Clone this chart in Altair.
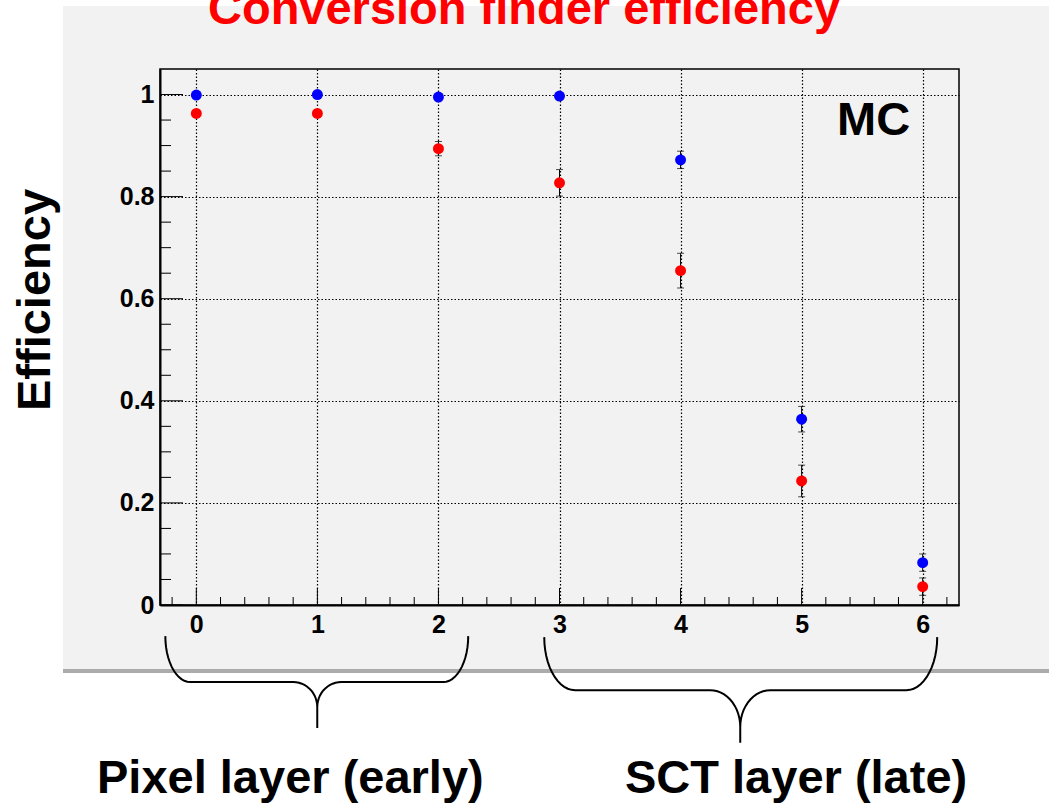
import altair as alt
import pandas as pd
import numpy as np

# ---------------- data ----------------
layers = [0, 1, 2, 3, 4, 5, 6]
blue_eff = [0.999, 1.000, 0.995, 0.997, 0.872, 0.364, 0.083]
blue_err = [0.002, 0.002, 0.003, 0.003, 0.017, 0.025, 0.017]
red_eff = [0.963, 0.963, 0.894, 0.827, 0.655, 0.243, 0.036]
red_err = [0.006, 0.006, 0.014, 0.026, 0.034, 0.031, 0.017]

x_major = [0, 1, 2, 3, 4, 5, 6]
x_minor = [round(-0.2 + 0.2 * k, 1) for k in range(33) if k % 5 != 1]
y_major = [0, 0.2, 0.4, 0.6, 0.8, 1.0]
y_minor = [round(0.05 * k, 2) for k in range(1, 21) if k % 4 != 0]

title_text = "Conversion finder efficiency"
y_title = "Efficiency"
tag_text = "MC"
group_labels = ["Pixel layer (early)", "SCT layer (late)"]

# brace geometry (data units of the two axes)
brace_x0 = [-0.256, 2.874]
brace_x1 = [2.246, 6.120]
brace_xm = [0.999, 4.493]
brace_ytop = [-0.061, -0.063]
brace_ybar = [-0.151, -0.167]
brace_ycurve = [-0.200, -0.239]
brace_yend = [-0.241, -0.270]
brace_rend = [0.206, 0.256]
brace_rtip = [0.198, 0.248]

# ---------------- layout ----------------
W, H = 799, 536
PAD = {"left": 160, "top": 69, "right": 90, "bottom": 205}
FONT = "Liberation Sans"
PANEL = "#f2f2f2"

xs = alt.Scale(domain=[-0.3, 6.3], nice=False, zero=False)
ys = alt.Scale(domain=[0, 1.05], nice=False, zero=False)

axis_common = dict(
    title=None, grid=True, ticks=False, tickSize=0, labelFont=FONT, labelFontSize=25,
    labelFontWeight="bold", labelColor="black", domainColor="black", domainWidth=2,
    gridColor="black", gridDash=[1.5, 2], gridWidth=1.2, labelFlush=False, labelOverlap=False,
)
XAX = alt.Axis(values=x_major, format="d", labelPadding=7, **axis_common)
YAX = alt.Axis(values=y_major, format="~g", labelPadding=6, **axis_common)

df = pd.DataFrame({
    "layer": layers * 2,
    "eff": blue_eff + red_eff,
    "err": blue_err + red_err,
    "sample": ["blue"] * 7 + ["red"] * 7,
})
df["lo"] = df["eff"] - df["err"]
df["hi"] = df["eff"] + df["err"]

one = pd.DataFrame({"a": [0]})


def box(x, x2, y, y2, color):
    return alt.Chart(one).mark_rect(color=color).encode(
        x=alt.value(x), x2=alt.value(x2), y=alt.value(y), y2=alt.value(y2)
    )


bg_left = box(-PAD["left"], -97, -PAD["top"], H + PAD["bottom"], "white")
bg_top = box(-PAD["left"], W + PAD["right"], -PAD["top"], -63, "white")
bg_bottom = box(-PAD["left"], W + PAD["right"], 600, H + PAD["bottom"], "white")
shadow = box(-97, W + PAD["right"], 600, 604, "#ababab")


# braces
def brace_points(i, n=14):
    x0, x1, xm = brace_x0[i], brace_x1[i], brace_xm[i]
    yt, yb, yc, ye = brace_ytop[i], brace_ybar[i], brace_ycurve[i], brace_yend[i]
    re, rt = brace_rend[i], brace_rtip[i]
    t = np.linspace(0, np.pi / 2, n)
    pts = []
    for a in t:
        pts.append((x0 + re - re * np.cos(a), yt - (yt - yb) * np.sin(a)))
    for a in t:
        pts.append((xm - rt + rt * np.sin(a), yc + (yb - yc) * np.cos(a)))
    pts.append((xm, ye))
    pts.append((xm, yc))
    for a in t[::-1]:
        pts.append((xm + rt - rt * np.sin(a), yc + (yb - yc) * np.cos(a)))
    for a in t[::-1]:
        pts.append((x1 - re + re * np.cos(a), yt - (yt - yb) * np.sin(a)))
    return pts


rows = []
for b in range(2):
    for k, (bx, by) in enumerate(brace_points(b)):
        rows.append({"b": b, "i": k, "bx": bx, "by": by})
brace_df = pd.DataFrame(rows)

braces = alt.Chart(brace_df).mark_line(color="black", strokeWidth=2).encode(
    x=alt.X("bx:Q", scale=xs, axis=XAX),
    y=alt.Y("by:Q", scale=ys, axis=YAX),
    detail="b:N",
    order="i:Q",
)

# inside ticks
xt_major = alt.Chart(pd.DataFrame({"v": x_major})).mark_rule(color="black", strokeWidth=1).encode(
    x=alt.X("v:Q", scale=xs, axis=XAX), y=alt.value(H), y2=alt.value(H - 17)
)
xt_minor = alt.Chart(pd.DataFrame({"v": x_minor})).mark_rule(color="black", strokeWidth=1).encode(
    x=alt.X("v:Q", scale=xs, axis=XAX), y=alt.value(H), y2=alt.value(H - 8)
)
yt_major = alt.Chart(pd.DataFrame({"v": y_major})).mark_rule(color="black", strokeWidth=1).encode(
    y=alt.Y("v:Q", scale=ys, axis=YAX), x=alt.value(0), x2=alt.value(23)
)
yt_minor = alt.Chart(pd.DataFrame({"v": y_minor})).mark_rule(color="black", strokeWidth=1).encode(
    y=alt.Y("v:Q", scale=ys, axis=YAX), x=alt.value(0), x2=alt.value(11)
)

# error bars
err_rules = alt.Chart(df).mark_rule(color="black", strokeWidth=1).encode(
    x=alt.X("layer:Q", scale=xs, axis=XAX),
    y=alt.Y("lo:Q", scale=ys, axis=YAX),
    y2="hi:Q",
)
err_caps = alt.Chart(df).transform_fold(["lo", "hi"], as_=["end", "val"]).mark_tick(
    orient="horizontal", size=7, thickness=1, color="black"
).encode(
    x=alt.X("layer:Q", scale=xs, axis=XAX),
    y=alt.Y("val:Q", scale=ys, axis=YAX),
)

points = alt.Chart(df).mark_circle(size=120, opacity=1).encode(
    x=alt.X("layer:Q", scale=xs, axis=XAX),
    y=alt.Y("eff:Q", scale=ys, axis=YAX),
    color=alt.Color("sample:N", scale=alt.Scale(domain=["blue", "red"], range=["#0000ff", "#ff0000"]), legend=None),
)


def label(text, x, y, color="black", align="left", angle=0):
    return alt.Chart(one).mark_text(
        text=text, font=FONT, fontSize=47, fontWeight="bold", color=color,
        align=align, baseline="alphabetic", angle=angle,
    ).encode(x=alt.value(x), y=alt.value(y))


title = label(title_text, 364, -45, color="#ff0000", align="center")
ytitle = label(y_title, -110, 231, align="center", angle=270)
mc = label(tag_text, 677, 66)
pix = label(group_labels[0], -63, 724)
sct = label(group_labels[1], 465, 724)

chart = alt.layer(
    bg_left, bg_top, bg_bottom, shadow, braces,
    xt_major, xt_minor, yt_major, yt_minor,
    err_rules, err_caps, points,
    title, ytitle, mc, pix, sct,
).properties(
    width=W, height=H, padding=PAD,
    autosize=alt.AutoSizeParams(type="none"),
    background=PANEL,
).configure_view(stroke="black", strokeWidth=1.5)

chart.save("out.html", embed_options={"renderer": "svg", "actions": False})
